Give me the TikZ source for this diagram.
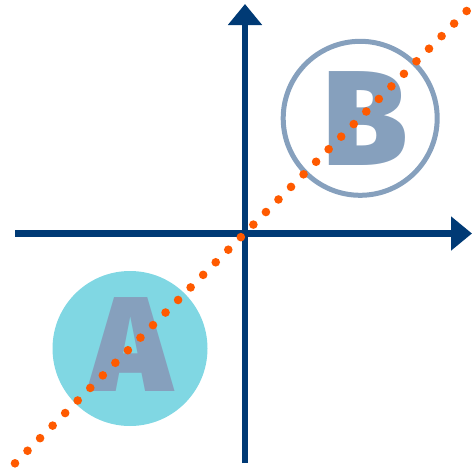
\documentclass[tikz,border=0pt]{standalone}
\usepackage{fontspec}
\newfontfamily\heavy{Fira Sans Black}
\usetikzlibrary{arrows.meta}
\definecolor{navy}{HTML}{003A75}
\definecolor{dotorange}{HTML}{FF5A00}
\definecolor{cyanfill}{HTML}{80D7E3}
\definecolor{slate}{HTML}{86A0BD}
\tikzset{
  axis/.style={draw=navy, line width=6.5pt, -{Triangle[length=21pt,width=33pt]}},
  letter/.style={text=slate, inner sep=0pt, anchor=base, font=\heavy\fontsize{135}{135}\selectfont},
  dotmark/.style={fill=dotorange}
}
\begin{document}
\begin{tikzpicture}[x=1pt,y=-1pt]
\useasboundingbox (0,0) rectangle (472,472);
% circles
\fill[cyanfill] (130,348.5) circle (77.5);
\draw[slate, line width=5pt] (360.2,118.3) circle (77);
% letters
\node[letter] (A) at (131,391) {A};
\node[letter] (B) at (365,165) {B};
% axes
\coordinate (xs) at (15,233.5);
\coordinate (xe) at (472,233.5);
\coordinate (ys) at (245,463);
\coordinate (ye) at (245,4);
\draw[axis] (xs) -- (xe);
\draw[axis] (ys) -- (ye);
% dotted line
\foreach \i in {0,...,36} {
  \fill[dotmark] ({15+\i*12.546},{463.3-\i*12.564}) circle (4.3);
}
\end{tikzpicture}
\end{document}
